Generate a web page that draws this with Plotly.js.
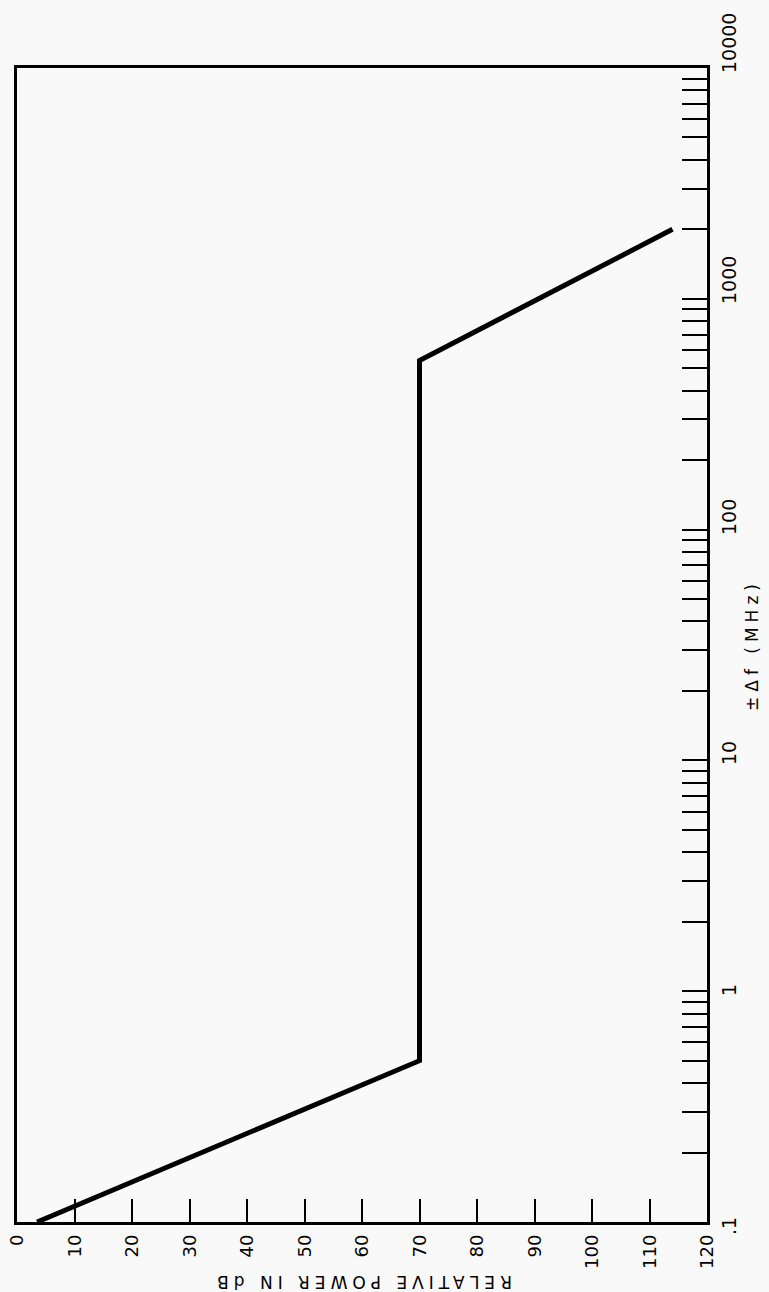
<!DOCTYPE html>
<html><head><meta charset="utf-8">
<script src="https://cdn.plot.ly/plotly-3.0.1.min.js"></script>
<style>
html,body{margin:0;padding:0;background:#f9f9f9;width:769px;height:1292px;overflow:hidden;}
#wrap{position:absolute;left:0;top:0;width:1292px;height:769px;transform-origin:0 0;transform:translate(0,1292px) rotate(-90deg);}
</style></head><body>
<div id="wrap"><div id="chart" style="width:1292px;height:769px"></div></div>
<script>
// Frequency offset (MHz, log scale) and relative power (dB)
const freqMHz = [0.1, 0.5, 540, 2000];
const powerDB = [3.5, 70, 70, 114];

// Tick values / labels
const dbTicks = [0, 10, 20, 30, 40, 50, 60, 70, 80, 90, 100, 110, 120];
const decadeVals = [0.1, 1, 10, 100, 1000, 10000];
const decadeLabels = ['.1', '1', '10', '100', '1000', '10000'];
const minorMult = [2, 3, 4, 5, 6, 7, 8, 9];

const xTitle = '±Δf (MHz)';
const yTitle = 'RELATIVE POWER IN dB';

const freqTicks = [];
decadeVals.forEach((d, i) => {
  freqTicks.push(d);
  if (i < decadeVals.length - 1) minorMult.forEach(m => freqTicks.push(+(d * m).toPrecision(3)));
});

const fontFam = 'DejaVu Sans, sans-serif';

const trace = {
  x: freqMHz, y: powerDB, type: 'scatter', mode: 'lines',
  line: {color: '#000', width: 5}, hoverinfo: 'skip', showlegend: false
};

const annotations = decadeVals.map((v, i) => ({
  x: Math.log10(v), xref: 'x', y: 0, yref: 'paper',
  yanchor: 'top', yshift: -9,
  xanchor: i === 0 ? 'right' : 'left', xshift: i === 0 ? 7 : -7,
  text: decadeLabels[i], showarrow: false,
  font: {family: fontFam, size: 19, color: '#000'}
}));

const layout = {
  width: 1292, height: 769,
  margin: {l: 70, r: 68, t: 17, b: 62},
  paper_bgcolor: '#f9f9f9', plot_bgcolor: '#f9f9f9',
  font: {family: fontFam, color: '#000'},
  showlegend: false,
  xaxis: {
    type: 'log', range: [-1, 4],
    tickmode: 'array', tickvals: freqTicks, showticklabels: false,
    ticks: 'inside', ticklen: 25, tickwidth: 2, tickcolor: '#000',
    showline: true, linewidth: 3, linecolor: '#000', mirror: true,
    showgrid: false, zeroline: false,
    title: {text: '<span style="letter-spacing:5px">' + xTitle + '</span>', font: {size: 17, color: '#000'}, standoff: 38}
  },
  yaxis: {
    range: [120, 0],
    tickmode: 'array', tickvals: dbTicks, ticktext: dbTicks.map(String),
    ticks: 'inside', ticklen: 23, tickwidth: 2, tickcolor: '#000',
    tickfont: {size: 18, color: '#000'}, ticklabelstandoff: 6,
    showline: true, linewidth: 3, linecolor: '#000', mirror: true,
    showgrid: false, zeroline: false,
    title: {text: '<span style="letter-spacing:5px">' + yTitle + '</span>', font: {size: 17, color: '#000'}, standoff: 7}
  },
  annotations: annotations
};

Plotly.newPlot('chart', [trace], layout, {displayModeBar: false, staticPlot: true});
</script>
</body></html>
